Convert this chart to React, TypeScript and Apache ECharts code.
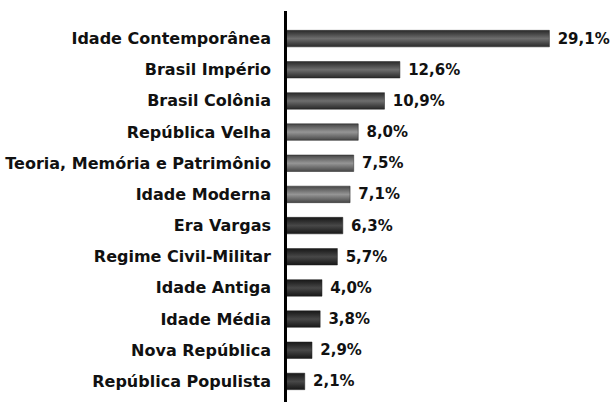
import React, { useEffect, useRef } from "react";
import * as echarts from "echarts";

const categories = [
  "Idade Contemporânea",
  "Brasil Império",
  "Brasil Colônia",
  "República Velha",
  "Teoria, Memória e Patrimônio",
  "Idade Moderna",
  "Era Vargas",
  "Regime Civil-Militar",
  "Idade Antiga",
  "Idade Média",
  "Nova República",
  "República Populista",
];
const values = [29.1, 12.6, 10.9, 8.0, 7.5, 7.1, 6.3, 5.7, 4.0, 3.8, 2.9, 2.1];
const tones = ["mid", "mid", "mid", "light", "light", "light", "dark", "dark", "dark", "dark", "dark", "dark"];

const palettes: Record<string, string[]> = {
  mid: ["#2a2a2a", "#444444", "#6e6e6e", "#444444", "#2a2a2a"],
  light: ["#454545", "#666666", "#959595", "#666666", "#454545"],
  dark: ["#181818", "#2a2a2a", "#484848", "#2a2a2a", "#181818"],
};

function grad(tone: string) {
  const p = palettes[tone];
  return new echarts.graphic.LinearGradient(0, 0, 0, 1, [
    { offset: 0, color: p[0] },
    { offset: 0.2, color: p[1] },
    { offset: 0.5, color: p[2] },
    { offset: 0.8, color: p[3] },
    { offset: 1, color: p[4] },
  ]);
}

const FONT = "DejaVu Sans";

export default function App() {
  const ref = useRef<HTMLDivElement>(null);
  useEffect(() => {
    if (!ref.current) return;
    const chart = echarts.init(ref.current, null, { renderer: "svg" });
    chart.setOption({
      animation: false,
      grid: { left: 286, right: 27, top: 23, bottom: 5, containLabel: false },
      xAxis: {
        type: "value",
        min: 0,
        max: 33,
        show: false,
      },
      yAxis: {
        type: "category",
        data: categories,
        inverse: true,
        axisLine: { show: false },
        axisTick: { show: false },
        axisLabel: {
          margin: 15,
          color: "#111",
          fontFamily: FONT,
          fontWeight: "bold",
          fontSize: 16,
        },
      },
      series: [
        {
          type: "bar",
          barWidth: 17,
          data: values.map((v, i) => ({
            value: v,
            itemStyle: { color: grad(tones[i]), borderColor: "#222", borderWidth: 0.5 },
          })),
          label: {
            show: true,
            position: "right",
            distance: 8,
            color: "#111",
            fontFamily: FONT,
            fontWeight: "bold",
            fontSize: 15,
            formatter: (p: any) => p.value.toFixed(1).replace(".", ",") + "%",
          },
        },
      ],
      graphic: [
        {
          type: "line",
          shape: { x1: 285.5, y1: 11, x2: 285.5, y2: 402 },
          style: { stroke: "#000", lineWidth: 3 },
          z: 100,
        },
      ],
    });
    return () => chart.dispose();
  }, []);
  return <div ref={ref} style={{ width: 612, height: 402, position: "absolute", left: 0, top: 0 }} />;
}
